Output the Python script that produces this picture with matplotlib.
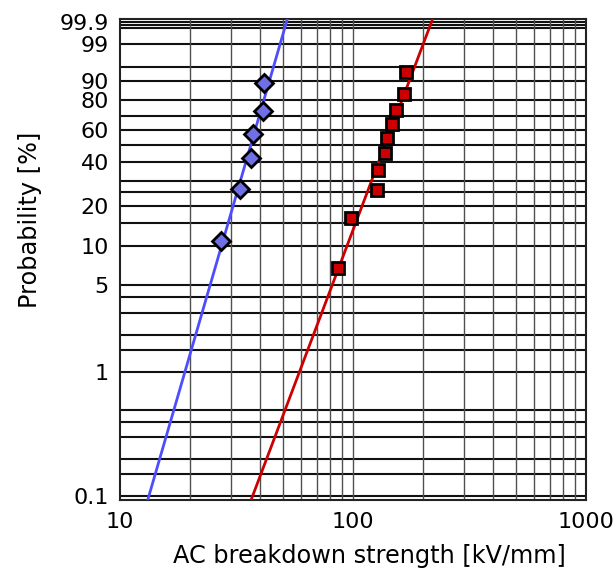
"""Weibull probability plot of AC breakdown strength for two sample sets."""
import matplotlib
matplotlib.use("Agg")
import matplotlib.pyplot as plt
import numpy as np

# breakdown strengths [kV/mm], sorted
blue_kv = [27.0, 32.6, 36.4, 37.3, 41.0, 41.6]
red_kv = [85.9, 98.0, 126.8, 128.4, 137.6, 140.3, 146.6, 152.5, 166.1, 168.9]

# fitted Weibull parameters (scale alpha [kV/mm], shape beta)
blue_fit = (38.5, 6.5)
red_fit = (147.6, 5.0)

y_ticks = [0.1, 1, 5, 10, 20, 40, 60, 80, 90, 99, 99.9]
y_grid = [0.1, 0.15, 0.2, 0.3, 0.4, 0.5, 1, 1.5, 2, 3, 4, 5, 10, 15, 20, 25,
          30, 40, 50, 60, 70, 80, 90, 95, 99, 99.8, 99.85, 99.9]
x_ticks = [10, 100, 1000]


def median_rank(n):
    # Bernard's approximation, in percent
    i = np.arange(1, n + 1)
    return 100 * (i - 0.3) / (n + 0.4)


def wb_fwd(p):
    p = np.clip(np.asarray(p, dtype=float), 1e-9, 100 - 1e-9)
    return np.log(-np.log(1 - p / 100))


def wb_inv(w):
    return 100 * (1 - np.exp(-np.exp(w)))


def weibull_cdf(x, alpha, beta):
    return 100 * (1 - np.exp(-(x / alpha) ** beta))


fig = plt.figure(figsize=(6.16, 5.75), dpi=100)
ax = fig.add_axes([120 / 616, 1 - 500 / 575, 466 / 616, 481 / 575])
ax.set_xscale("log")
ax.set_yscale("function", functions=(wb_fwd, wb_inv))

# grid
for p in y_grid:
    ax.axhline(p, color="#111111", lw=1.5, zorder=1)
for dec in [10, 100]:
    for k in range(2, 10):
        ax.axvline(dec * k, color="#505050", lw=1.0, zorder=1)
ax.axvline(100, color="#505050", lw=1.0, zorder=1)

xs = np.logspace(1, 3, 400)
ax.plot(xs, weibull_cdf(xs, *blue_fit), color="#4d4dff", lw=2, zorder=3)
ax.plot(xs, weibull_cdf(xs, *red_fit), color="#cc0000", lw=2, zorder=3)

ax.plot(blue_kv, median_rank(len(blue_kv)), ls="none", marker="D",
        ms=9, mfc="#6f6fe6", mec="black", mew=2, zorder=4)
ax.plot(red_kv, median_rank(len(red_kv)), ls="none", marker="s",
        ms=8.8, mfc="#cc0000", mec="black", mew=2, zorder=4)

ax.set_xlim(10, 1000)
ax.set_ylim(wb_inv(-6.982), wb_inv(1.989))

ax.set_yticks(y_ticks)
ax.set_yticklabels([f"{t:g}" for t in y_ticks])
ax.set_xticks(x_ticks)
ax.set_xticklabels([str(t) for t in x_ticks])
ax.minorticks_off()
ax.tick_params(axis="both", length=0, labelsize=16)
ax.tick_params(axis="y", pad=8)
ax.tick_params(axis="x", pad=9)

for side in ["left", "bottom", "top", "right"]:
    ax.spines[side].set_color("#222222")
    ax.spines[side].set_linewidth(1.5)

ax.set_xlabel("AC breakdown strength [kV/mm]", fontsize=17.3)
ax.set_ylabel("Probability [%]", fontsize=17.3)
ax.xaxis.set_label_coords(0.535, -0.092)
ax.yaxis.set_label_coords(-0.168, 0.582)

fig.savefig("out.png", dpi=100)
